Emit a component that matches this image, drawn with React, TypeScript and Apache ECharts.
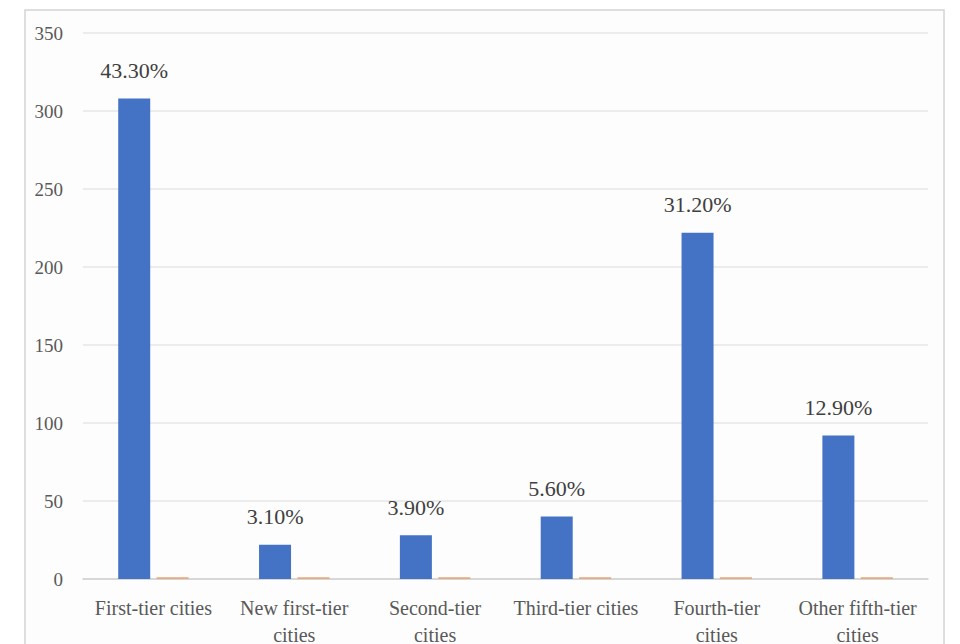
import React, { useEffect, useRef } from "react";
import * as echarts from "echarts";

const categories = [
  "First-tier cities",
  "New first-tier cities",
  "Second-tier cities",
  "Third-tier cities",
  "Fourth-tier cities",
  "Other fifth-tier cities",
];
const categoryLabels = [
  "First-tier cities",
  "New first-tier\ncities",
  "Second-tier\ncities",
  "Third-tier cities",
  "Fourth-tier\ncities",
  "Other fifth-tier\ncities",
];
const counts = [308, 22, 28, 40, 222, 92];
const shares = [0.433, 0.031, 0.039, 0.056, 0.312, 0.129];
const shareLabels = ["43.30%", "3.10%", "3.90%", "5.60%", "31.20%", "12.90%"];
const yTicks = { min: 0, max: 350, interval: 50 };

export default function App() {
  const ref = useRef<HTMLDivElement>(null);
  useEffect(() => {
    if (!ref.current) return;
    const chart = echarts.init(ref.current, undefined, { renderer: "svg" });
    const font = "Liberation Serif";
    chart.setOption({
      animation: false,
      backgroundColor: "#ffffff",
      textStyle: { fontFamily: font },
      graphic: [
        {
          type: "rect",
          shape: { x: 25, y: 10, width: 919, height: 700 },
          style: { fill: "#fdfdfd", stroke: "#d4d4d4", lineWidth: 1.5 },
          z: -10,
        },
      ],
      grid: {
        left: 83,
        right: 32,
        top: 33,
        bottom: 65,
        containLabel: false,
        outerBoundsMode: "none",
      },
      xAxis: {
        type: "category",
        data: categories,
        axisLine: { lineStyle: { color: "#d0d0d0", width: 1.5 } },
        axisTick: { show: false },
        axisLabel: {
          color: "#595959",
          fontFamily: font,
          fontSize: 20,
          margin: 15,
          lineHeight: 27,
          interval: 0,
          formatter: (_v: string, i: number) => categoryLabels[i],
        },
      },
      yAxis: {
        type: "value",
        min: yTicks.min,
        max: yTicks.max,
        interval: yTicks.interval,
        axisLine: { show: false },
        axisTick: { show: false },
        splitLine: { lineStyle: { color: "#e6e6e6", width: 1.5 } },
        axisLabel: { color: "#595959", fontFamily: font, fontSize: 19, margin: 20 },
      },
      series: [
        {
          type: "bar",
          data: counts,
          barWidth: 32,
          barGap: "20%",
          itemStyle: { color: "#4472C4" },
          label: {
            show: true,
            position: "top",
            distance: 17,
            color: "#404040",
            fontFamily: font,
            fontSize: 22,
            formatter: (p: any) => shareLabels[p.dataIndex],
          },
        },
        {
          type: "bar",
          data: shares,
          barWidth: 32,
          barMinHeight: 2,
          itemStyle: { color: "#ED7D31", opacity: 0.5 },
        },
      ],
    });
    return () => chart.dispose();
  }, []);
  return (
    <div
      ref={ref}
      style={{ position: "fixed", left: 0, top: 0, width: 960, height: 644 }}
    />
  );
}
